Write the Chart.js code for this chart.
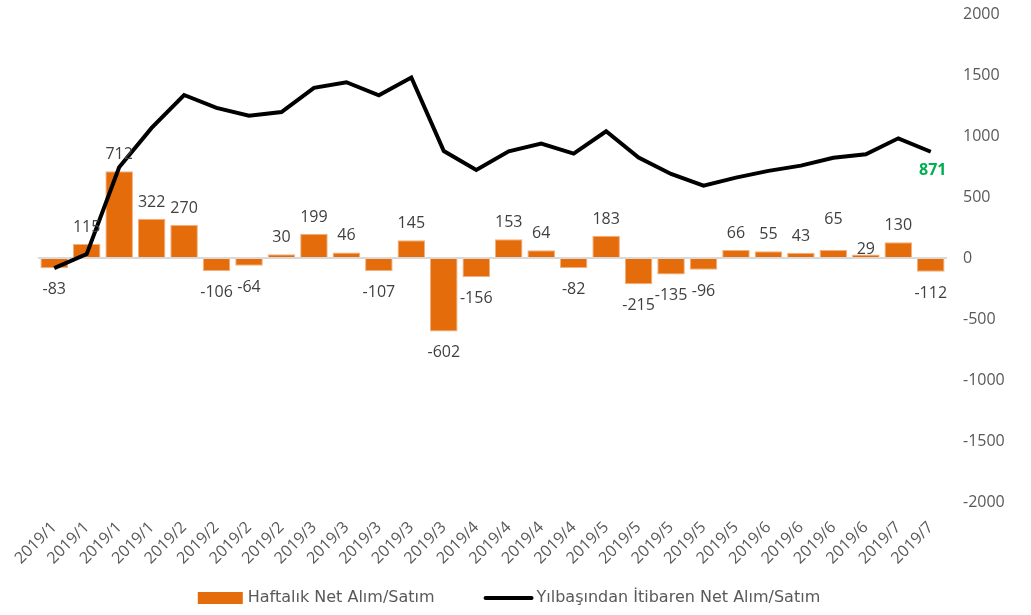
<!DOCTYPE html>
<html>
<head>
<meta charset="utf-8">
<script src="https://cdn.jsdelivr.net/npm/chart.js@4.4.1/dist/chart.umd.min.js"></script>
<style>
  html, body { margin: 0; padding: 0; background: #ffffff; }
  #wrap { width: 1031px; height: 615px; position: relative; }
</style>
</head>
<body>
<div id="wrap"><canvas id="c" width="1031" height="615"></canvas></div>
<script>
const categories = [
  "2019/1","2019/1","2019/1","2019/1",
  "2019/2","2019/2","2019/2","2019/2",
  "2019/3","2019/3","2019/3","2019/3","2019/3",
  "2019/4","2019/4","2019/4","2019/4",
  "2019/5","2019/5","2019/5","2019/5","2019/5",
  "2019/6","2019/6","2019/6","2019/6",
  "2019/7","2019/7"
];
const weeklyNet = [-83, 115, 712, 322, 270, -106, -64, 30, 199, 46, -107, 145, -602, -156, 153, 64, -82, 183, -215, -135, -96, 66, 55, 43, 65, 29, 130, -112];
const ytdNet = [-83, 32, 744, 1066, 1336, 1230, 1166, 1196, 1395, 1441, 1334, 1479, 877, 721, 874, 938, 856, 1039, 824, 689, 593, 659, 714, 757, 822, 851, 981, 871];
const yTicks = [-2000, -1500, -1000, -500, 0, 500, 1000, 1500, 2000];
const seriesNames = ["Haftalık Net Alım/Satım", "Yılbaşından İtibaren Net Alım/Satım"];

const FONT = "'Open Sans', 'Noto Sans', sans-serif";
const LEGEND_FONT = "'DejaVu Sans', sans-serif";
const BAR_COLOR = '#E46C0A';
const LINE_COLOR = '#000000';
// manual label nudges (pixels) for a few labels that were moved in the original
const LABEL_NUDGE = { 24: -14, 25: 12 };

const labelPlugin = {
  id: 'valueLabels',
  afterDatasetsDraw(chart) {
    const ctx = chart.ctx;
    ctx.save();
    const barMeta = chart.getDatasetMeta(0);
    const zeroY = chart.scales.y.getPixelForValue(0);
    ctx.font = "16px " + FONT;
    ctx.fillStyle = "#404040";
    ctx.textAlign = "center";
    ctx.textBaseline = "alphabetic";
    barMeta.data.forEach((el, i) => {
      const v = weeklyNet[i];
      const nudge = LABEL_NUDGE[i] || 0;
      if (v >= 0) {
        ctx.fillText(String(v), el.x, el.y - 12 + nudge);
      } else {
        ctx.fillText(String(v), el.x, el.y + 26 + nudge);
      }
    });
    const lineMeta = chart.getDatasetMeta(1);
    const last = lineMeta.data[lineMeta.data.length - 1];
    ctx.font = "bold 16px " + FONT;
    ctx.fillStyle = "#00B050";
    ctx.textAlign = "center";
    ctx.fillText(String(ytdNet[ytdNet.length - 1]), last.x + 2, last.y + 23);
    ctx.restore();
  }
};

const legendPlugin = {
  id: 'customLegend',
  afterDraw(chart) {
    const ctx = chart.ctx;
    ctx.save();
    ctx.font = "16px " + LEGEND_FONT;
    const w1 = ctx.measureText(seriesNames[0]).width;
    const w2 = ctx.measureText(seriesNames[1]).width;
    const total = 45 + 5 + w1 + 49 + 50 + 3 + w2;
    let x = 509 - total / 2;
    const y = 598;
    ctx.fillStyle = BAR_COLOR;
    ctx.fillRect(x, y - 6, 45, 12);
    x += 50;
    ctx.fillStyle = '#595959';
    ctx.textAlign = 'left';
    ctx.textBaseline = 'middle';
    ctx.fillText(seriesNames[0], x, y);
    x += w1 + 49;
    ctx.strokeStyle = LINE_COLOR;
    ctx.lineWidth = 4;
    ctx.lineCap = 'round';
    ctx.beginPath();
    ctx.moveTo(x + 2, y);
    ctx.lineTo(x + 48, y);
    ctx.stroke();
    x += 53;
    ctx.fillText(seriesNames[1], x, y);
    ctx.restore();
  }
};

new Chart(document.getElementById('c'), {
  data: {
    labels: categories,
    datasets: [
      {
        type: 'bar',
        label: seriesNames[0],
        data: weeklyNet,
        backgroundColor: BAR_COLOR,
        borderColor: '#F3B07E',
        borderWidth: 1,
        barPercentage: 0.85,
        categoryPercentage: 1.0,
        order: 1
      },
      {
        type: 'line',
        label: seriesNames[1],
        data: ytdNet,
        borderColor: LINE_COLOR,
        backgroundColor: LINE_COLOR,
        borderWidth: 4,
        pointRadius: 0,
        tension: 0,
        fill: false,
        order: 0
      }
    ]
  },
  options: {
    responsive: false,
    animation: false,
    devicePixelRatio: 1,
    layout: { padding: { left: 38, right: 0, top: 14, bottom: 35 } },
    plugins: {
      tooltip: { enabled: false },
      legend: { display: false }
    },
    scales: {
      x: {
        grid: { display: false, drawTicks: false },
        border: { display: false },
        afterFit(axis) { axis.height = 78; },
        ticks: {
          font: { family: FONT, size: 16 },
          color: '#595959',
          maxRotation: 45,
          minRotation: 45,
          autoSkip: false,
          padding: 16
        }
      },
      y: {
        position: 'right',
        min: -2000,
        max: 2000,
        afterBuildTicks(axis) { axis.ticks = yTicks.map(v => ({ value: v })); },
        afterFit(axis) { axis.width = 84; axis.paddingTop = 0; axis.paddingBottom = 0; },
        grid: {
          drawTicks: false,
          color: (c) => (c.tick && c.tick.value === 0) ? '#D9D9D9' : 'rgba(0,0,0,0)',
          lineWidth: 2
        },
        border: { display: false },
        ticks: {
          font: { family: FONT, size: 16 },
          color: '#595959',
          padding: 16,
          callback: (v) => String(v)
        }
      }
    }
  },
  plugins: [labelPlugin, legendPlugin]
});
</script>
</body>
</html>
